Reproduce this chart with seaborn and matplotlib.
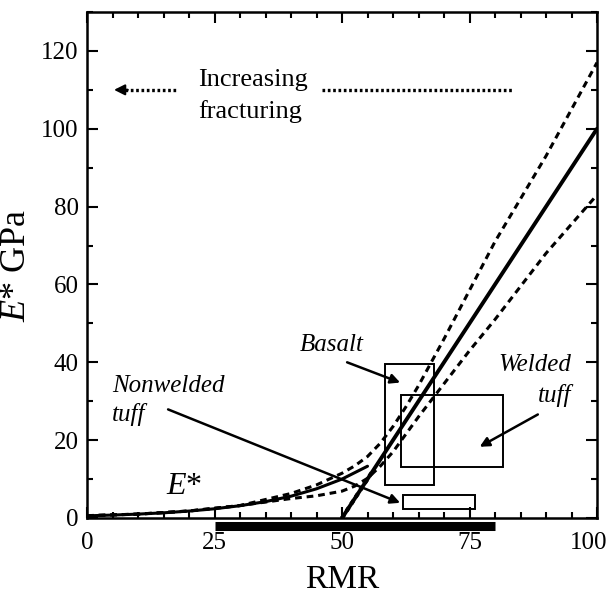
import numpy as np
import pandas as pd
import matplotlib
matplotlib.use("Agg")
import matplotlib.pyplot as plt
from matplotlib.patches import Rectangle
from matplotlib.transforms import ScaledTranslation
import seaborn as sns

# E* curve (exponential part)
rmr_curve = [0, 5, 10, 15, 20, 25, 30, 35, 40, 45, 50, 55]
e_curve = [0.56, 0.75, 1.0, 1.33, 1.78, 2.37, 3.16, 4.2, 5.6, 7.5, 10.0, 13.3]

# straight part
rmr_line = [50, 100]
e_line = [0, 100]

# dashed bounds
rmr_bound = [0, 10, 20, 30, 40, 45, 50, 52.5, 55, 57.5, 60, 62.5, 65, 70, 75, 80, 90, 100]
e_upper = [0.6, 1.0, 1.8, 3.2, 6.3, 8.5, 11.5, 13.4, 15.8, 19.2, 23.5, 28.5, 34, 46, 58.5, 71, 93, 117]
e_lower = [0.6, 1.0, 1.8, 3.2, 5.0, 5.7, 6.9, 8.2, 10.2, 13.3, 17, 21.5, 26, 34.5, 43, 51, 68, 83]

# dotted bit along the straight line
rmr_dots = [50, 53, 56]
e_dots = [0, 6, 12]

# rock boxes
rocks = ["Basalt", "Welded tuff", "Nonwelded tuff"]
rmr_lo = [58.5, 61.5, 62]
rmr_hi = [68, 81.5, 76]
e_lo = [8.5, 13, 2.2]
e_hi = [39.5, 31.5, 5.8]

# RMR range bar under the axis
rmr_range = [25, 80]

sns.set_style("ticks")
plt.rcParams["font.family"] = ["Liberation Serif", "DejaVu Serif"]
plt.rcParams["mathtext.fontset"] = "custom"
plt.rcParams["mathtext.rm"] = "Liberation Serif"
plt.rcParams["mathtext.it"] = "Liberation Serif:italic"
for k in ["text.color", "axes.labelcolor", "xtick.color", "ytick.color", "axes.edgecolor"]:
    plt.rcParams[k] = "black"

fig = plt.figure(figsize=(6.14, 5.99), dpi=100)
ax = fig.add_axes([87/614, 1-518/599, (597-87)/614, (518-12)/599])

dash = (0, (2.2, 1.6))
sns.lineplot(x=rmr_bound, y=e_upper, ax=ax, color="k", lw=2.2, linestyle=dash)
sns.lineplot(x=rmr_bound, y=e_lower, ax=ax, color="k", lw=2.2, linestyle=dash)
sns.lineplot(x=rmr_curve, y=e_curve, ax=ax, color="k", lw=2.2)
sns.lineplot(x=rmr_line, y=e_line, ax=ax, color="k", lw=2.8)
sns.lineplot(x=rmr_dots, y=e_dots, ax=ax, color="k", lw=3, linestyle=(0, (1, 1)))

for i in range(len(rocks)):
    ax.add_patch(Rectangle((rmr_lo[i], e_lo[i]), rmr_hi[i]-rmr_lo[i], e_hi[i]-e_lo[i],
                           fill=False, ec="k", lw=1.4))

# thick bar below the x axis
ax.plot(rmr_range, [-2.1, -2.1], color="k", lw=6.5, solid_capstyle="butt", clip_on=False)

# labels and arrows
arr = dict(arrowstyle="-|>", color="k", lw=1.8, mutation_scale=14, shrinkA=0, shrinkB=0)
ax.text(47.9, 44.5, "Basalt", fontsize=18, style="italic", ha="center", va="center")
ax.annotate("", xy=(61.4, 34.8), xytext=(51, 40), arrowprops=arr)
ax.text(95, 39.2, "Welded", fontsize=18, style="italic", ha="right", va="center")
ax.text(95, 31.4, "tuff", fontsize=18, style="italic", ha="right", va="center")
ax.annotate("", xy=(77, 18.3), xytext=(88.4, 26.6), arrowprops=arr)
ax.text(4.9, 34, "Nonwelded", fontsize=18, style="italic", ha="left", va="center")
ax.text(4.9, 26.6, "tuff", fontsize=18, style="italic", ha="left", va="center")
ax.annotate("", xy=(61.4, 3.9), xytext=(15.9, 27.9), arrowprops=arr)
ax.text(19, 8, r"$E$*", fontsize=23, ha="center", va="center")

# increasing fracturing
ax.text(21.8, 112.5, "Increasing", fontsize=19, ha="left", va="center")
ax.text(21.8, 104.5, "fracturing", fontsize=19, ha="left", va="center")
ax.plot([7.5, 17.5], [110, 110], color="k", lw=2.4, linestyle=(0, (0.8, 0.8)))
ax.plot([46, 83.3], [110, 110], color="k", lw=2.4, linestyle=(0, (0.8, 0.8)))
ax.annotate("", xy=(5.3, 110), xytext=(8, 110),
            arrowprops=dict(arrowstyle="-|>", color="k", lw=1.5, mutation_scale=16, shrinkA=0, shrinkB=0))

ax.set_xlim(0, 100)
ax.set_ylim(0, 130)
ax.set_xticks([0, 25, 50, 75, 100])
ax.set_xticks(np.arange(0, 101, 5), minor=True)
ax.set_yticks([0, 20, 40, 60, 80, 100, 120])
ax.set_yticks(np.arange(0, 131, 10), minor=True)
ax.tick_params(which="both", direction="in", top=True, right=True, width=1.5, labelsize=18)
ax.tick_params(which="major", length=8)
ax.tick_params(which="minor", length=4)
ax.tick_params(axis="x", pad=10)
ax.tick_params(axis="y", pad=6)
for s in ax.spines.values():
    s.set_linewidth(1.8)

# nudge the "100" label left so it stays inside the figure
lab = ax.xaxis.get_major_ticks()[-1].label1
lab.set_transform(lab.get_transform() + ScaledTranslation(-6/72, 0, fig.dpi_scale_trans))

ax.set_xlabel("RMR", fontsize=24, labelpad=8)
ax.set_ylabel(r"$E$* GPa", fontsize=26, labelpad=6)

fig.savefig("out.png", dpi=100)
